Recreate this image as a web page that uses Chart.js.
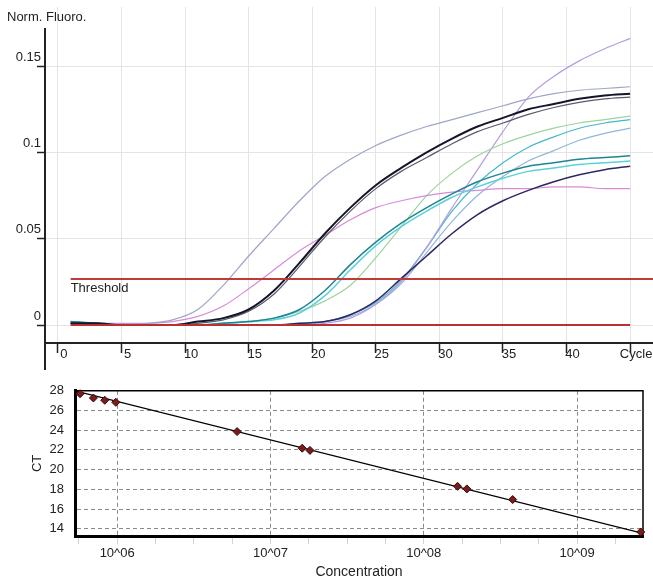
<!DOCTYPE html>
<html>
<head>
<meta charset="utf-8">
<script src="https://cdn.jsdelivr.net/npm/chart.js@4.4.0/dist/chart.umd.min.js"></script>
<style>
html, body { margin: 0; padding: 0; background: #fff; }
#ampChart { position: absolute; left: 0; top: 0; }
#stdChart { position: absolute; left: 0; top: 372px; }
</style>
</head>
<body>
<canvas id="ampChart" width="653" height="372"></canvas>
<canvas id="stdChart" width="653" height="212"></canvas>
<script>
// amplification curves (normalised fluorescence per cycle)
var cycles = [1,3,5,7,9,11,13,15,17,19,21,23,25,27,29,31,33,35,37,39,41,43,45];
var curveGray   = [0.002,0.001,0.0005,0.001,0.003,0.009,0.023,0.040,0.056,0.072,0.086,0.096,0.104,0.110,0.115,0.119,0.123,0.127,0.131,0.134,0.136,0.137,0.138];
var curvePink   = [0.002,0.001,0.001,0.001,0.002,0.005,0.011,0.021,0.032,0.043,0.052,0.061,0.068,0.072,0.075,0.077,0.078,0.079,0.079,0.080,0.080,0.079,0.079];
var curveBlack  = [0.001,0.001,0.000,0.000,0.000,0.002,0.004,0.009,0.020,0.036,0.053,0.068,0.081,0.091,0.100,0.108,0.115,0.120,0.125,0.128,0.131,0.133,0.134];
var curveBlack2 = [0.001,0.000,0.000,0.000,0.000,0.001,0.003,0.008,0.018,0.034,0.051,0.066,0.079,0.089,0.097,0.105,0.112,0.117,0.122,0.126,0.129,0.131,0.132];
var curveTeal   = [0.002,0.001,0.000,0.000,0.000,0.000,0.001,0.002,0.004,0.009,0.020,0.035,0.048,0.059,0.068,0.076,0.083,0.088,0.092,0.094,0.096,0.097,0.098];
var curveCyan   = [0.001,0.001,0.000,0.000,0.000,0.000,0.001,0.002,0.003,0.007,0.017,0.032,0.046,0.057,0.066,0.074,0.080,0.085,0.089,0.091,0.093,0.094,0.095];
var curveGreen  = [0.001,0.000,0.000,0.000,0.000,0.000,0.001,0.002,0.004,0.008,0.014,0.023,0.039,0.057,0.075,0.088,0.098,0.105,0.110,0.114,0.117,0.119,0.121];
var curveNavy   = [0.001,0.000,0.000,0.000,0.000,0.000,0.000,0.000,0.000,0.001,0.002,0.006,0.014,0.027,0.040,0.053,0.064,0.072,0.078,0.083,0.087,0.090,0.092];
var curvePurple = [0.001,0.000,0.000,0.000,0.000,0.000,0.000,0.000,0.000,0.000,0.001,0.004,0.012,0.025,0.045,0.068,0.090,0.112,0.132,0.144,0.153,0.160,0.166];
var curveCyan2  = [0.001,0.000,0.000,0.000,0.000,0.000,0.000,0.000,0.000,0.001,0.002,0.006,0.013,0.026,0.045,0.066,0.082,0.094,0.103,0.109,0.114,0.117,0.119];
var curveBlue   = [0.001,0.000,0.000,0.000,0.000,0.000,0.000,0.000,0.000,0.000,0.002,0.005,0.012,0.024,0.042,0.060,0.075,0.086,0.095,0.101,0.107,0.111,0.114];

var threshold = 0.0266;
var thresholdCycles = [1, 46.8];
var baselineCycles = [1, 45];

var cycleTicks = [0,5,10,15,20,25,30,35,40,45];
var cycleLabels = ['0','5','10','15','20','25','30','35','40','Cycle'];
var fluoroTicks = [0,0.05,0.1,0.15];
var fluoroLabels = ['0','0.05','0.1','0.15'];

// standard curve
var concentration = [5.73e5,7.0e5,8.3e5,9.8e5,6.06e6,1.61e7,1.81e7,1.66e8,1.91e8,3.8e8,2.6e9];
var ctValues = [27.7,27.27,27.04,26.83,23.86,22.17,21.95,18.30,18.04,16.96,13.67];
var fitConc = [5.31e5, 2.69e9];
var fitCt = [28.0, 13.52];
var ctTicks = [14,16,18,20,22,24,26,28];
var concTickExp = [5.75,6,6.25,6.5,6.75,7,7.25,7.5,7.75,8,8.25,8.5,8.75,9,9.25];

var fontFamily = 'Arial, "Liberation Sans", Helvetica, sans-serif';
Chart.defaults.font.family = fontFamily;
Chart.defaults.font.size = 13;
Chart.defaults.color = '#222';

function curve(label, values, color, width) {
    return {
        label: label,
        data: values,
        borderColor: color,
        borderWidth: width,
        pointRadius: 0,
        fill: false,
        cubicInterpolationMode: 'monotone'
    };
}

function hline(label, xs, yv, color) {
    return {
        label: label,
        data: [{x: xs[0], y: yv}, {x: xs[1], y: yv}],
        borderColor: color,
        borderWidth: 2,
        pointRadius: 0,
        fill: false
    };
}

var ampDecor = {
    id: 'ampDecor',
    afterDraw: function(chart) {
        var ctx = chart.ctx, area = chart.chartArea;
        var xs = chart.scales.x, ys = chart.scales.y;
        ctx.save();
        ctx.strokeStyle = '#222';
        ctx.lineWidth = 2;
        ctx.beginPath();
        ctx.moveTo(area.left, 28);
        ctx.lineTo(area.left, chart.height - 2);
        ctx.stroke();
        ctx.fillStyle = '#222';
        ctx.font = '13px ' + fontFamily;
        ctx.textBaseline = 'middle';
        ctx.fillText('Norm. Fluoro.', 7, 17);
        ctx.fillText('Threshold', xs.getPixelForValue(thresholdCycles[0]), ys.getPixelForValue(threshold) + 9);
        ctx.restore();
    }
};

new Chart(document.getElementById('ampChart').getContext('2d'), {
    type: 'line',
    data: {
        labels: cycles,
        datasets: [
            hline('threshold', thresholdCycles, threshold, '#c03a3a'),
            hline('baseline', baselineCycles, 0, '#b83030'),
            curve('A', curveBlack, '#15152a', 2),
            curve('B', curveBlack2, '#5a5a6a', 1.2),
            curve('C', curveTeal, '#1f8592', 1.5),
            curve('D', curveCyan, '#5cd0dc', 1.5),
            curve('E', curveNavy, '#2e2660', 1.5),
            curve('F', curveGray, '#9ea6c6', 1.2),
            curve('G', curvePink, '#d98ad9', 1.2),
            curve('H', curveGreen, '#9cd49c', 1.2),
            curve('I', curvePurple, '#b59ce0', 1.2),
            curve('J', curveCyan2, '#45b9c9', 1.2),
            curve('K', curveBlue, '#93b6d8', 1.2)
        ]
    },
    options: {
        responsive: false,
        animation: false,
        layout: { padding: { left: 0, right: 0, top: 7, bottom: 0 } },
        plugins: { legend: { display: false }, tooltip: { enabled: false } },
        scales: {
            x: {
                type: 'linear',
                min: -1.02,
                max: 46.8,
                afterFit: function(s) { s.height = 29; },
                afterBuildTicks: function(s) { s.ticks = cycleTicks.map(function(v) { return {value: v}; }); },
                grid: { color: '#e4e4e4', lineWidth: 1, drawTicks: true, tickLength: 10, tickColor: '#222', tickWidth: 1.5 },
                border: { display: true, color: '#222', width: 2 },
                ticks: {
                    autoSkip: false, maxRotation: 0, padding: -6, labelOffset: 6,
                    callback: function(v, i) { return cycleLabels[i]; }
                }
            },
            y: {
                min: -0.0104,
                max: 0.1842,
                afterFit: function(s) { s.width = 45; },
                afterBuildTicks: function(s) { s.ticks = fluoroTicks.map(function(v) { return {value: v}; }); },
                grid: { color: '#e4e4e4', lineWidth: 1, drawTicks: true, tickLength: 8, tickColor: '#222', tickWidth: 1.5 },
                border: { display: false },
                ticks: {
                    padding: -4, labelOffset: -9,
                    callback: function(v, i) { return fluoroLabels[i]; }
                }
            }
        }
    },
    plugins: [ampDecor]
});

function isDecade(v) {
    var e = Math.log10(v);
    return Math.abs(e - Math.round(e)) < 1e-6;
}

var stdBox = {
    id: 'stdBox',
    beforeDatasetsDraw: function(chart) {
        var ctx = chart.ctx, a = chart.chartArea;
        ctx.save();
        ctx.strokeStyle = '#000';
        ctx.lineWidth = 1.5;
        ctx.beginPath();
        ctx.moveTo(a.left, a.top);
        ctx.lineTo(a.right, a.top);
        ctx.lineTo(a.right, a.bottom);
        ctx.stroke();
        ctx.restore();
    }
};

new Chart(document.getElementById('stdChart').getContext('2d'), {
    type: 'scatter',
    data: {
        datasets: [
            {
                label: 'standards',
                data: concentration.map(function(c, i) { return {x: c, y: ctValues[i]}; }),
                pointStyle: 'rectRot',
                pointRadius: 4,
                backgroundColor: '#7a1c1c',
                borderColor: '#3a0808',
                borderWidth: 1,
                clip: 6
            },
            {
                label: 'fit',
                data: fitConc.map(function(c, i) { return {x: c, y: fitCt[i]}; }),
                showLine: true,
                pointRadius: 0,
                borderColor: '#000',
                borderWidth: 1.3
            }
        ]
    },
    options: {
        responsive: false,
        animation: false,
        layout: { padding: { left: 0, right: 10, top: 10, bottom: 0 } },
        plugins: { legend: { display: false }, tooltip: { enabled: false } },
        scales: {
            x: {
                type: 'logarithmic',
                min: 5.31e5,
                max: 2.69e9,
                afterFit: function(s) { s.height = 48; },
                afterBuildTicks: function(s) { s.ticks = concTickExp.map(function(e) { return {value: Math.pow(10, e)}; }); },
                grid: {
                    color: function(c) { return c.tick && isDecade(c.tick.value) ? '#8a8a8a' : 'rgba(0,0,0,0)'; },
                    lineWidth: 1, drawTicks: true, tickLength: 8, tickColor: '#d4d4d4'
                },
                border: { display: true, color: '#000', width: 3, dash: [4, 3] },
                ticks: {
                    autoSkip: false, maxRotation: 0, padding: 2,
                    callback: function(v) {
                        if (!isDecade(v)) return '';
                        var e = Math.round(Math.log10(v));
                        return '10^' + (e < 10 ? '0' : '') + e;
                    }
                },
                title: { display: true, text: 'Concentration', font: { size: 14 }, padding: { top: 0, bottom: 3 } }
            },
            y: {
                min: 13.26,
                max: 28,
                afterFit: function(s) { s.width = 75; },
                afterBuildTicks: function(s) { s.ticks = ctTicks.map(function(v) { return {value: v}; }); },
                grid: { color: '#8a8a8a', lineWidth: 1, drawTicks: false },
                border: { display: true, color: '#000', width: 3, dash: [4, 3] },
                ticks: { padding: 11 },
                title: { display: true, text: 'CT', padding: { top: 30, bottom: 0 } }
            }
        }
    },
    plugins: [stdBox]
});
</script>
</body>
</html>
